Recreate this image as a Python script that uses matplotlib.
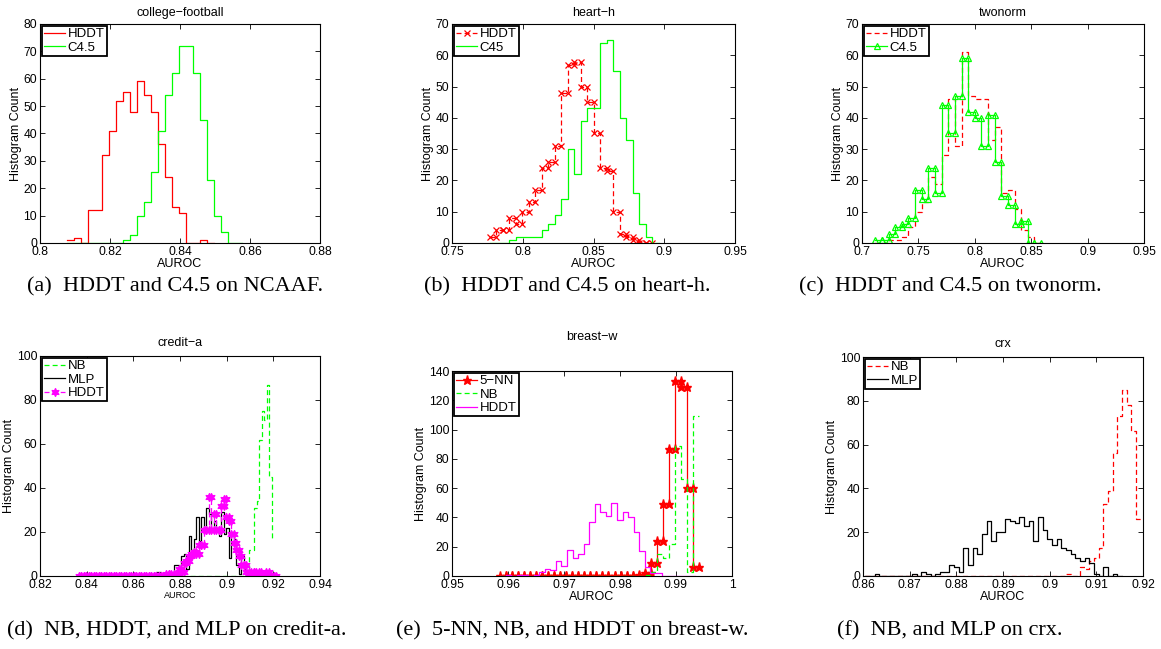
import matplotlib
matplotlib.use("Agg")
import matplotlib.pyplot as plt
import numpy as np
from matplotlib.ticker import FixedLocator, FuncFormatter

plt.rcParams["font.family"] = ["Liberation Sans", "DejaVu Sans"]

# ---------------------------------------------------------------------------
# Datos: histogramas AUROC (inicio del primer bin, ancho, cuentas por bin)
# ---------------------------------------------------------------------------

# (a) college-football
CF_LO, CF_W = 0.8076, 0.0020
CF_HDDT = [1, 2, 0, 12, 12, 32, 41, 52, 55, 48, 59, 54, 48, 36, 24, 13, 11, 0, 0, 1, 0]
CF_C45 = [0, 0, 0, 0, 0, 0, 0, 0, 1, 3, 10, 15, 26, 41, 54, 62, 72, 72, 62, 45, 23, 10, 4, 0, 0]

# (b) heart-h
HH_LO, HH_W = 0.7766, 0.00459
HH_HDDT = [2, 4, 4, 8, 6, 10, 13, 17, 24, 26, 31, 48, 57, 58, 50, 45, 35, 24, 23, 10, 3, 2, 1, 0, 0]
HH_C45 = [0, 0, 0, 1, 2, 2, 2, 2, 4, 6, 9, 14, 30, 22, 39, 43, 43, 64, 65, 55, 40, 33, 16, 6, 2, 0]

# (c) twonorm
TW_LO, TW_W = 0.7118, 0.00588
TW_HDDT = [0, 0, 1, 1, 2, 5, 10, 13, 21, 19, 28, 46, 31, 61, 47, 46, 46, 33, 37, 16, 17, 11, 4, 2, 0]
TW_C45 = [1, 1, 3, 5, 6, 8, 17, 14, 24, 16, 44, 35, 47, 59, 42, 40, 31, 41, 26, 15, 12, 6, 7, 0, 0]

# (d) credit-a
CA_W = 0.00107
CA_NB_LO = 0.8807
CA_NB = [0] * 27 + [12, 12, 31, 34, 62, 75, 71, 87, 45, 17]
CA_MLP_LO = 0.8367
CA_MLP = ([0] * 31 + [2, 2, 0, 0, 0, 0, 0, 5, 5, 1, 9, 10, 3, 18, 12, 17, 27, 16, 27, 20, 31,
                      28, 20, 25, 22, 18, 29, 19, 22, 8, 20, 17, 5, 1, 9, 3, 0])
CA_HDDT_LO = 0.8367
CA_HDDT = ([0] * 35 + [1, 1, 0, 1, 1, 3, 2, 6, 7, 9, 10, 11, 10, 14, 14, 21, 21, 36, 21, 28,
                       21, 21, 32, 35, 27, 25, 19, 15, 12, 9, 5, 5, 2, 1, 2, 2, 1, 2, 1, 1, 2,
                       0, 0, 0])

# (e) breast-w
BW_NN_LO, BW_NN_W = 0.9585, 0.00108
BW_NN = [0] * 23 + [1, 2, 9, 24, 49, 87, 133, 129, 60, 6]
BW_NB = [0] * 24 + [1, 3, 15, 12, 22, 89, 66, 3, 109]
BW_HDDT_LO, BW_HDDT_W = 0.9586, 0.000994
BW_HDDT = [0, 1, 0, 1, 1, 0, 1, 3, 5, 4, 10, 7, 18, 12, 15, 22, 37, 49, 44, 41, 50, 38, 44,
           40, 30, 17, 6, 2, 2, 0, 0, 0, 0, 0, 0]

# (f) crx
CRX_LO, CRX_W = 0.8605, 0.0010
CRX_NB = [0] * 43 + [1, 0, 0, 4, 3, 7, 8, 13, 33, 39, 56, 73, 85, 78, 66, 26]
CRX_MLP = [0, 0, 1, 0, 0, 0, 0, 0, 0, 0, 1, 0, 2, 1, 0, 1, 2, 2, 5, 4, 2, 13, 5, 13, 10, 19,
           25, 16, 20, 20, 26, 25, 24, 27, 23, 25, 16, 27, 21, 17, 14, 17, 13, 12, 10, 8, 7,
           8, 6, 1, 0, 4, 0, 1, 0]

CAPTIONS = [
    "(a)  HDDT and C4.5 on NCAAF.",
    "(b)  HDDT and C4.5 on heart-h.",
    "(c)  HDDT and C4.5 on twonorm.",
    "(d)  NB, HDDT, and MLP on credit-a.",
    "(e)  5-NN, NB, and HDDT on breast-w.",
    "(f)  NB, and MLP on crx.",
]

RED, GREEN, MAGENTA, BLACK = "#ff0000", "#00ff00", "#ff00ff", "#000000"
HEXAGRAM = (6, 1, 0)

W_PX, H_PX = 1161, 649


# ---------------------------------------------------------------------------
# Utilidades
# ---------------------------------------------------------------------------


def _stairs(ax, lo, width, counts, **kw):
    """Escalera estilo MATLAB: un tramo horizontal por bin, marcador en cada vértice."""
    counts = np.asarray(counts, dtype=float)
    edges = lo + width * np.arange(len(counts) + 1)
    xs = np.repeat(edges, 2)[1:-1]
    ys = np.repeat(counts, 2)
    return ax.plot(xs, ys, **kw)[0]


def _axes(fig, left, top, right, bottom):
    return fig.add_axes([left / W_PX, 1 - bottom / H_PX,
                         (right - left) / W_PX, (bottom - top) / H_PX])


def _style(ax, title, xlim, xticks, ylim, yticks, title_pad=6, xlabel_size=9):
    ax.set_xlim(*xlim)
    ax.set_ylim(*ylim)
    ax.xaxis.set_major_locator(FixedLocator(xticks))
    ax.yaxis.set_major_locator(FixedLocator(yticks))
    fmt = FuncFormatter(lambda v, p: f"{round(v, 4):g}")
    ax.xaxis.set_major_formatter(fmt)
    ax.yaxis.set_major_formatter(fmt)
    ax.tick_params(direction="in", top=True, right=True, length=3.5, width=0.6,
                   labelsize=8.7, pad=2)
    for sp in ax.spines.values():
        sp.set_linewidth(0.8)
    ax.set_title(title, fontsize=9, pad=title_pad)
    ax.set_xlabel("AUROC", fontsize=xlabel_size, labelpad=0)
    ax.set_ylabel("Histogram Count", fontsize=9, labelpad=1.5)


def _legend(ax):
    leg = ax.legend(loc="upper left", fontsize=9.5, frameon=True, fancybox=False,
                    edgecolor="black", framealpha=1, borderaxespad=0.15, borderpad=0.15,
                    handlelength=1.6, handletextpad=0.2, labelspacing=0.1, numpoints=1)
    leg.get_frame().set_linewidth(1.3)


DASH = (0, (4, 2.5))

# ---------------------------------------------------------------------------
# Figura
# ---------------------------------------------------------------------------

fig = plt.figure(figsize=(W_PX / 100, H_PX / 100), dpi=100)

# (a)
ax = _axes(fig, 40, 24, 320, 243)
_stairs(ax, CF_LO, CF_W, CF_HDDT, color=RED, lw=0.9, label="HDDT")
_stairs(ax, CF_LO, CF_W, CF_C45, color=GREEN, lw=0.9, label="C4.5")
_style(ax, "college\u2212football", (0.8, 0.88), np.arange(0.8, 0.881, 0.02),
       (0, 80), range(0, 81, 10))
_legend(ax)

# (b)
ax = _axes(fig, 452, 24, 735, 243)
_stairs(ax, HH_LO, HH_W, HH_HDDT, color=RED, lw=0.9, ls=DASH, marker="x", ms=4,
        mew=0.9, label="HDDT")
_stairs(ax, HH_LO, HH_W, HH_C45, color=GREEN, lw=0.9, label="C45")
_style(ax, "heart\u2212h", (0.75, 0.95), np.arange(0.75, 0.951, 0.05),
       (0, 70), range(0, 71, 10))
_legend(ax)

# (c)
ax = _axes(fig, 862, 24, 1144, 243)
_stairs(ax, TW_LO, TW_W, TW_HDDT, color=RED, lw=0.9, ls=DASH, label="HDDT")
_stairs(ax, TW_LO, TW_W, TW_C45, color=GREEN, lw=0.9, marker="^", ms=5,
        mfc="none", mew=0.9, label="C4.5")
_style(ax, "twonorm", (0.7, 0.95), np.arange(0.7, 0.951, 0.05),
       (0, 70), range(0, 71, 10))
_legend(ax)

# (d)
ax = _axes(fig, 40, 356, 320, 576)
_stairs(ax, CA_NB_LO, CA_W, CA_NB, color=GREEN, lw=0.9, ls=DASH, label="NB")
_stairs(ax, CA_MLP_LO, CA_W, CA_MLP, color=BLACK, lw=0.9, label="MLP")
_stairs(ax, CA_HDDT_LO, CA_W, CA_HDDT, color=MAGENTA, lw=0.9, ls=DASH, marker=HEXAGRAM,
        ms=6, mew=0.8, label="HDDT")
_style(ax, "credit\u2212a", (0.82, 0.94), np.arange(0.82, 0.941, 0.02),
       (0, 100), range(0, 101, 20), title_pad=7, xlabel_size=6.5)
_legend(ax)

# (e)
ax = _axes(fig, 452, 371, 732, 576)
_stairs(ax, BW_NN_LO, BW_NN_W, BW_NN, color=RED, lw=0.9, marker="*", ms=6.5,
        label="5\u2212NN")
_stairs(ax, BW_NN_LO, BW_NN_W, BW_NB, color=GREEN, lw=0.9, ls=DASH, label="NB")
_stairs(ax, BW_HDDT_LO, BW_HDDT_W, BW_HDDT, color=MAGENTA, lw=0.9, label="HDDT")
_style(ax, "breast\u2212w", (0.95, 1.0), np.arange(0.95, 1.001, 0.01),
       (0, 140), range(0, 141, 20), title_pad=22)
_legend(ax)

# (f)
ax = _axes(fig, 863, 357, 1143, 576)
_stairs(ax, CRX_LO, CRX_W, CRX_NB, color=RED, lw=0.9, ls=DASH, label="NB")
_stairs(ax, CRX_LO, CRX_W, CRX_MLP, color=BLACK, lw=0.9, label="MLP")
_style(ax, "crx", (0.86, 0.92), np.arange(0.86, 0.921, 0.01),
       (0, 100), range(0, 101, 20), title_pad=7)
_legend(ax)

# Leyendas de subfigura
cap_xy = [(175, 287), (567, 287), (950, 287), (177, 631), (572, 631), (950, 631)]
for (cx, cy), txt in zip(cap_xy, CAPTIONS):
    fig.text(cx / W_PX, 1 - cy / H_PX, txt, ha="center", va="center",
             family=["Liberation Serif", "DejaVu Serif"], fontsize=16)

fig.savefig("out.png", dpi=100)
plt.close(fig)
